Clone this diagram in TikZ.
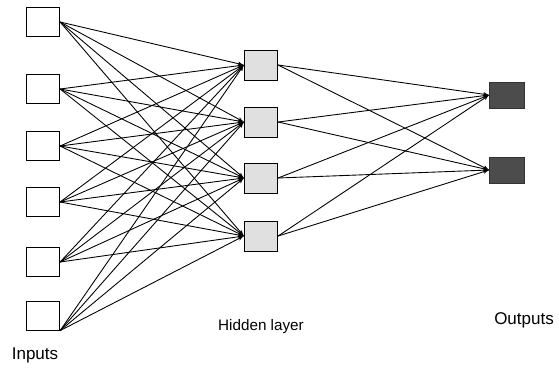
\documentclass[tikz,border=0pt]{standalone}
\usepackage{fontspec}
\setmainfont{Liberation Sans}
\usepackage{tikz}
\usetikzlibrary{arrows,shapes,positioning}

\begin{document}
\begin{tikzpicture}[->,>=latex',shorten >=0pt,auto,on grid,
                    line width=0.75pt]
\tikzstyle{inbox}=[rectangle,line width=0.75pt,draw=black,fill=white,inner sep=0pt,minimum width=10mm,minimum height=8.5mm]
\tikzstyle{hidbox}=[rectangle,line width=0.75pt,draw=black,fill=black!12,inner sep=0pt,minimum width=10mm,minimum height=9mm]
\tikzstyle{outbox}=[rectangle,line width=0.5pt,draw=black!80,fill=black!70,inner sep=0pt,minimum width=10.5mm,minimum height=7.8mm]
\tikzstyle{layerlabel}=[font=\fontsize{13}{15}\selectfont,inner sep=0pt]
\tikzstyle{endlabel}=[font=\fontsize{14.5}{16}\selectfont,inner sep=0pt]

\useasboundingbox (0,0) rectangle (16.77,-11.13);

\node[inbox] (in1) at (1.29,-0.66) {};
\node[inbox] (in2) [below=2.01cm of in1] {};
\node[inbox] (in3) [below=1.71cm of in2] {};
\node[inbox] (in4) [below=1.68cm of in3] {};
\node[inbox] (in5) [below=1.80cm of in4] {};
\node[inbox] (in6) [below=1.62cm of in5] {};

\node[hidbox] (hid1) [below right=1.29cm and 6.54cm of in1] {};
\node[hidbox] (hid2) [below=1.71cm of hid1] {};
\node[hidbox] (hid3) [below=1.68cm of hid2] {};
\node[hidbox] (hid4) [below=1.74cm of hid3] {};

\node[outbox] (out1) [below right=0.9cm and 7.38cm of hid1] {};
\node[outbox] (out2) [below=2.25cm of out1] {};

\node[endlabel] (lab_in) [below left=1.17cm and 0.24cm of in6] {Inputs};
\node[layerlabel] (lab_hid) [below=2.73cm of hid4] {Hidden layer};
\node[endlabel] (lab_out) [below right=4.5cm and 0.51cm of out2] {Outputs};

\draw[->] (in1.east) -- (hid1.west);
\draw[->] (in1.east) -- (hid2.west);
\draw[->] (in1.east) -- (hid3.west);
\draw[->] (in1.east) -- (hid4.west);
\draw[->] (in2.east) -- (hid1.west);
\draw[->] (in2.east) -- (hid2.west);
\draw[->] (in2.east) -- (hid3.west);
\draw[->] (in2.east) -- (hid4.west);
\draw[->] (in3.east) -- (hid1.west);
\draw[->] (in3.east) -- (hid2.west);
\draw[->] (in3.east) -- (hid3.west);
\draw[->] (in3.east) -- (hid4.west);
\draw[->] (in4.east) -- (hid1.west);
\draw[->] (in4.east) -- (hid2.west);
\draw[->] (in4.east) -- (hid3.west);
\draw[->] (in4.east) -- (hid4.west);
\draw[->] (in5.east) -- (hid1.west);
\draw[->] (in5.east) -- (hid2.west);
\draw[->] (in5.east) -- (hid3.west);
\draw[->] (in5.east) -- (hid4.west);
\draw[->] (in6.south east) -- (hid1.west);
\draw[->] (in6.south east) -- (hid2.west);
\draw[->] (in6.south east) -- (hid3.west);
\draw[->] (in6.south east) -- (hid4.west);

\draw[->] (hid1.east) -- (out1.west);
\draw[->] (hid1.east) -- (out2.west);
\draw[->] (hid2.east) -- (out1.west);
\draw[->] (hid2.east) -- (out2.west);
\draw[->] (hid3.east) -- (out1.west);
\draw[->] (hid3.east) -- (out2.west);
\draw[->] (hid4.east) -- (out1.west);
\draw[->] (hid4.east) -- (out2.west);
\end{tikzpicture}
\end{document}
